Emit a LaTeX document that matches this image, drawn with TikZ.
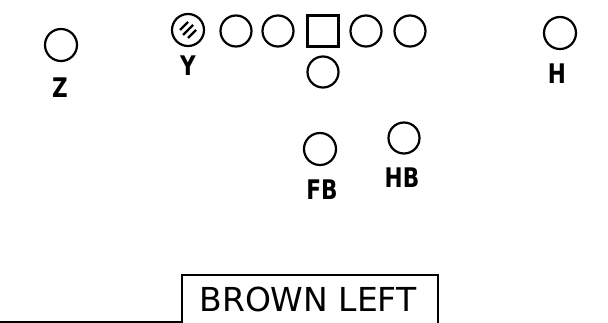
\documentclass[tikz,border=0pt]{standalone}
\usepackage{fontspec}
\setsansfont{DejaVu Sans}
\usetikzlibrary{positioning}

\begin{document}
\begin{tikzpicture}[x=1pt, y=1pt, line width=2.2pt,
    player/.style={draw, circle, inner sep=0pt, minimum size=#1},
    player/.default=31pt,
    center/.style={draw, rectangle, inner sep=0pt, minimum size=31pt},
    tag/.style={font=\sffamily\bfseries\fontsize{27}{27}\selectfont,
                xscale=0.8, transform shape, inner sep=0pt}]
  \useasboundingbox (0,0) rectangle (608,-323);
  %% Line
  \node[player=32pt] (y) at (188,-30) {};
  \node[player] (lt) at (236,-31) {};
  \node[player] (lg) at (278,-31) {};
  \node[center] (c) at (323,-31) {};
  \node[player] (rg) at (366,-31) {};
  \node[player] (rt) at (410,-31) {};
  %% Backs and receivers
  \node[player] (qb) at (323,-72) {};
  \node[player=32pt] (z) at (61,-45) {};
  \node[player=32pt] (h) at (560,-33) {};
  \node[player=32pt] (fb) at (320,-149) {};
  \node[player] (hb) at (404,-138) {};
  %% Hatching on Y
  \foreach \k in {-1,0,1}
    \draw[line width=2.4pt] ([shift={(-4*\k-5+\k*\k,4*\k-5+\k*\k)}]y.center)
      -- ([shift={(-4*\k+5-\k*\k,4*\k+5-\k*\k)}]y.center);
  %% Labels
  \node[tag] (zlab) at (60,-88) {Z};
  \node[tag] (ylab) at (188,-66) {Y};
  \node[tag] (hlab) at (557,-74) {H};
  \node[tag] (fblab) at (322,-190) {FB};
  \node[tag] (hblab) at (402,-178) {HB};
  %% Formation name
  \node[font=\sffamily\fontsize{33}{33}\selectfont, anchor=base, inner sep=0pt]
    (title) at (308,-312) {BROWN LEFT};
  \draw[line width=2pt] (182,-335) |- (438,-275) -- (438,-335);
  \draw[line width=1.6pt] (0,-322) -- (182,-322);
\end{tikzpicture}
\end{document}
